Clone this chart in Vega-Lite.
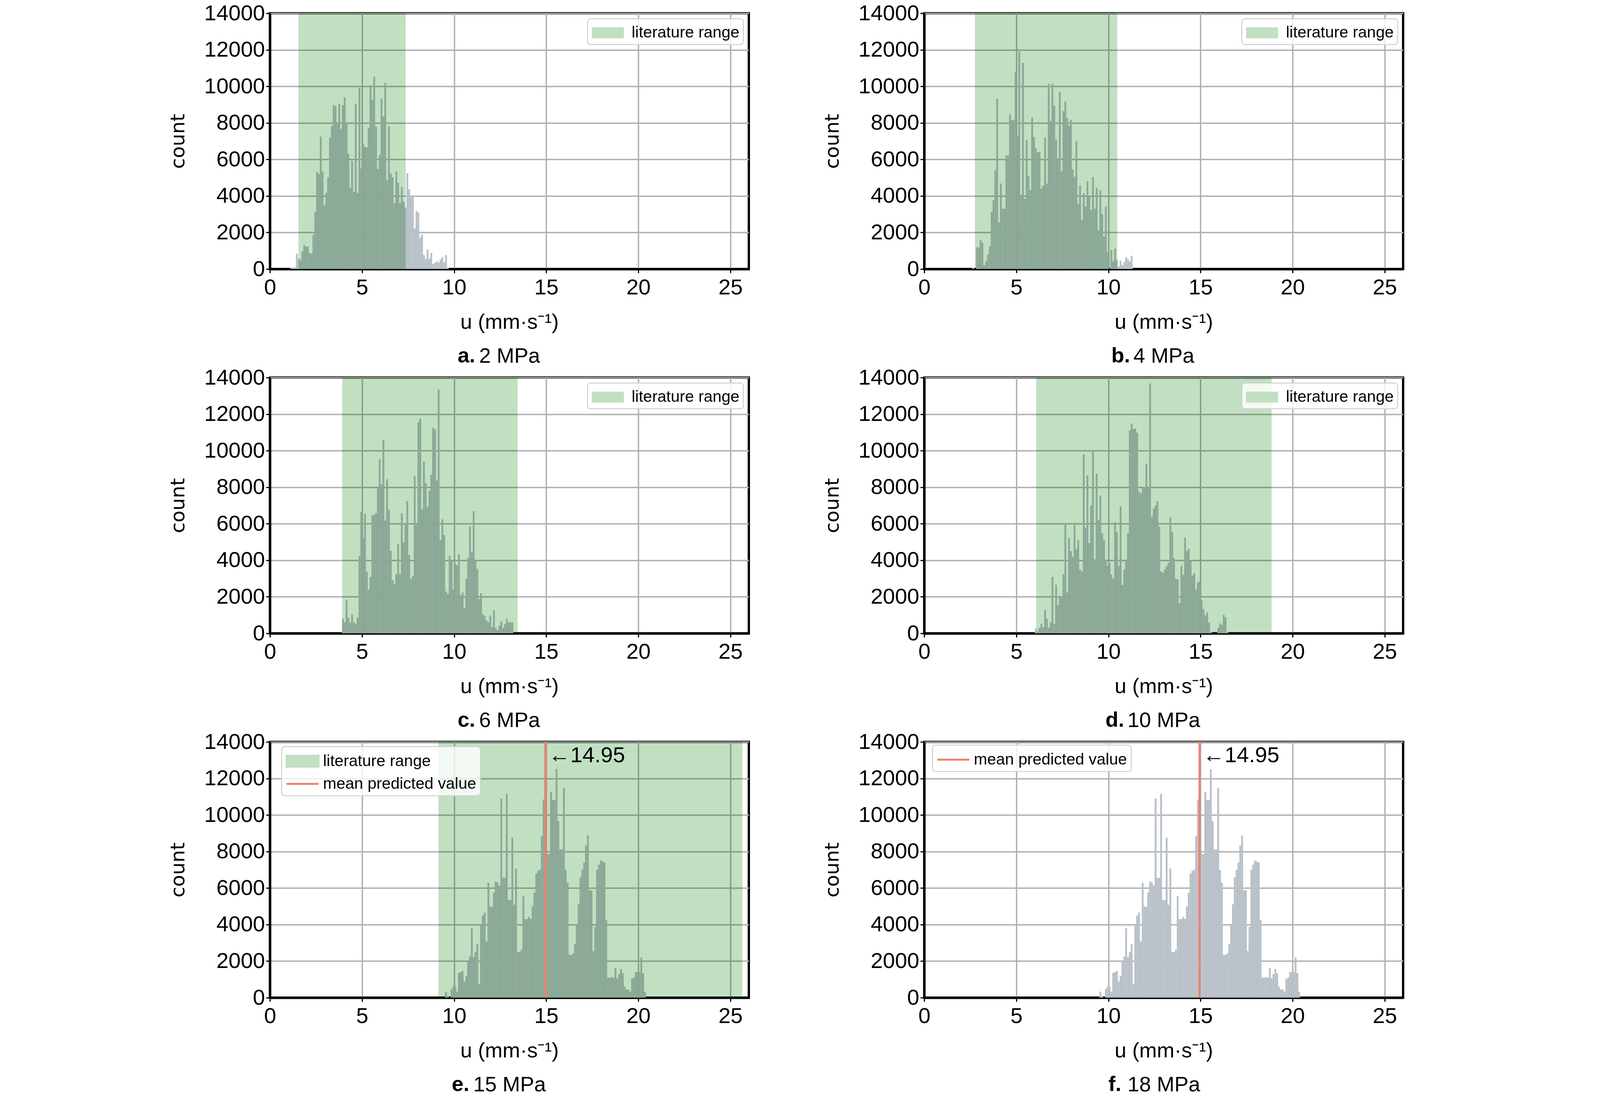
{
  "$schema": "https://vega.github.io/schema/vega-lite/v6.json",
  "background": "white",
  "padding": {"left": 428, "top": 3, "right": 10, "bottom": 10},
  "datasets": {
    "a": [{"u":1.15,"n":60},{"u":1.25,"n":80},{"u":1.35,"n":80},{"u":1.45,"n":845},{"u":1.55,"n":590},{"u":1.65,"n":480},{"u":1.75,"n":970},{"u":1.85,"n":1310},{"u":1.95,"n":1240},{"u":2.05,"n":1230},{"u":2.15,"n":870},{"u":2.25,"n":845},{"u":2.35,"n":1880},{"u":2.45,"n":3140},{"u":2.55,"n":5320},{"u":2.65,"n":5210},{"u":2.75,"n":7250},{"u":2.85,"n":5340},{"u":2.95,"n":3480},{"u":3.05,"n":4170},{"u":3.15,"n":5030},{"u":3.25,"n":7200},{"u":3.35,"n":7810},{"u":3.45,"n":8970},{"u":3.55,"n":8930},{"u":3.65,"n":7920},{"u":3.75,"n":9040},{"u":3.85,"n":7680},{"u":3.95,"n":8970},{"u":4.05,"n":9400},{"u":4.15,"n":8030},{"u":4.25,"n":6310},{"u":4.35,"n":4450},{"u":4.45,"n":5910},{"u":4.55,"n":4240},{"u":4.65,"n":9050},{"u":4.75,"n":4170},{"u":4.85,"n":9930},{"u":4.95,"n":5500},{"u":5.05,"n":6860},{"u":5.15,"n":6680},{"u":5.25,"n":6660},{"u":5.35,"n":7740},{"u":5.45,"n":10060},{"u":5.55,"n":9260},{"u":5.65,"n":10540},{"u":5.75,"n":7810},{"u":5.85,"n":5470},{"u":5.95,"n":6240},{"u":6.05,"n":9340},{"u":6.15,"n":8350},{"u":6.25,"n":10190},{"u":6.35,"n":4870},{"u":6.45,"n":7820},{"u":6.55,"n":5230},{"u":6.65,"n":5030},{"u":6.75,"n":3590},{"u":6.85,"n":5340},{"u":6.95,"n":4720},{"u":7.05,"n":3620},{"u":7.15,"n":4490},{"u":7.25,"n":3700},{"u":7.35,"n":3370},{"u":7.45,"n":5250},{"u":7.55,"n":4380},{"u":7.65,"n":3930},{"u":7.75,"n":3950},{"u":7.85,"n":2220},{"u":7.95,"n":3180},{"u":8.05,"n":3080},{"u":8.15,"n":1710},{"u":8.25,"n":1890},{"u":8.35,"n":770},{"u":8.45,"n":560},{"u":8.55,"n":1060},{"u":8.65,"n":560},{"u":8.75,"n":870},{"u":8.85,"n":270},{"u":8.95,"n":340},{"u":9.05,"n":430},{"u":9.15,"n":340},{"u":9.25,"n":520},{"u":9.35,"n":660},{"u":9.45,"n":375},{"u":9.55,"n":770},{"u":9.65,"n":60}],
    "b": [{"u":2.65,"n":80},{"u":2.85,"n":1190},{"u":2.95,"n":1190},{"u":3.05,"n":1600},{"u":3.15,"n":1430},{"u":3.25,"n":205},{"u":3.35,"n":420},{"u":3.45,"n":790},{"u":3.55,"n":1250},{"u":3.65,"n":3130},{"u":3.75,"n":3770},{"u":3.85,"n":5410},{"u":3.95,"n":9320},{"u":4.05,"n":2550},{"u":4.15,"n":4680},{"u":4.25,"n":3300},{"u":4.35,"n":3300},{"u":4.45,"n":6220},{"u":4.55,"n":6220},{"u":4.65,"n":8470},{"u":4.75,"n":8150},{"u":4.85,"n":8150},{"u":4.95,"n":10800},{"u":5.05,"n":7290},{"u":5.15,"n":11900},{"u":5.25,"n":4050},{"u":5.35,"n":11290},{"u":5.45,"n":3850},{"u":5.55,"n":7070},{"u":5.65,"n":5080},{"u":5.75,"n":4330},{"u":5.85,"n":8300},{"u":5.95,"n":7230},{"u":6.05,"n":6610},{"u":6.15,"n":6380},{"u":6.25,"n":6420},{"u":6.35,"n":4400},{"u":6.45,"n":4560},{"u":6.55,"n":7200},{"u":6.65,"n":4680},{"u":6.75,"n":10140},{"u":6.85,"n":8110},{"u":6.95,"n":10140},{"u":7.05,"n":8930},{"u":7.15,"n":7090},{"u":7.25,"n":6060},{"u":7.35,"n":9680},{"u":7.45,"n":5350},{"u":7.55,"n":8640},{"u":7.65,"n":9160},{"u":7.75,"n":8270},{"u":7.85,"n":7850},{"u":7.95,"n":8170},{"u":8.05,"n":5450},{"u":8.15,"n":5050},{"u":8.25,"n":6990},{"u":8.35,"n":3580},{"u":8.45,"n":4580},{"u":8.55,"n":2690},{"u":8.65,"n":4150},{"u":8.75,"n":3420},{"u":8.85,"n":4810},{"u":8.95,"n":4000},{"u":9.05,"n":3240},{"u":9.15,"n":5040},{"u":9.25,"n":3300},{"u":9.35,"n":4440},{"u":9.45,"n":2120},{"u":9.55,"n":4300},{"u":9.65,"n":3020},{"u":9.75,"n":1780},{"u":9.85,"n":3420},{"u":9.95,"n":950},{"u":10.05,"n":30},{"u":10.15,"n":1050},{"u":10.25,"n":420},{"u":10.35,"n":1110},{"u":10.45,"n":500},{"u":10.55,"n":140},{"u":10.65,"n":460},{"u":10.75,"n":220},{"u":10.85,"n":380},{"u":10.95,"n":640},{"u":11.05,"n":540},{"u":11.15,"n":420},{"u":11.25,"n":730}],
    "c": [{"u":3.95,"n":810},{"u":4.05,"n":610},{"u":4.15,"n":1850},{"u":4.25,"n":850},{"u":4.35,"n":590},{"u":4.45,"n":1040},{"u":4.55,"n":600},{"u":4.65,"n":520},{"u":4.75,"n":860},{"u":4.85,"n":4230},{"u":4.95,"n":6660},{"u":5.05,"n":5210},{"u":5.15,"n":6550},{"u":5.25,"n":3380},{"u":5.35,"n":2390},{"u":5.45,"n":3090},{"u":5.55,"n":6460},{"u":5.65,"n":6500},{"u":5.75,"n":6590},{"u":5.85,"n":7940},{"u":5.95,"n":9530},{"u":6.05,"n":8140},{"u":6.15,"n":10590},{"u":6.25,"n":6180},{"u":6.35,"n":8440},{"u":6.45,"n":6770},{"u":6.55,"n":4520},{"u":6.65,"n":2910},{"u":6.75,"n":2710},{"u":6.85,"n":3250},{"u":6.95,"n":4900},{"u":7.05,"n":3250},{"u":7.15,"n":6570},{"u":7.25,"n":4980},{"u":7.35,"n":6000},{"u":7.45,"n":7250},{"u":7.55,"n":4290},{"u":7.65,"n":2990},{"u":7.75,"n":3140},{"u":7.85,"n":8610},{"u":7.95,"n":5950},{"u":8.05,"n":11540},{"u":8.15,"n":11760},{"u":8.25,"n":6780},{"u":8.35,"n":9400},{"u":8.45,"n":8220},{"u":8.55,"n":6930},{"u":8.65,"n":7800},{"u":8.75,"n":8680},{"u":8.85,"n":11250},{"u":8.95,"n":11170},{"u":9.05,"n":8380},{"u":9.15,"n":13350},{"u":9.25,"n":5100},{"u":9.35,"n":6240},{"u":9.45,"n":5380},{"u":9.55,"n":2290},{"u":9.65,"n":2160},{"u":9.75,"n":4250},{"u":9.85,"n":3970},{"u":9.95,"n":2400},{"u":10.05,"n":3800},{"u":10.15,"n":3720},{"u":10.25,"n":4340},{"u":10.35,"n":2090},{"u":10.45,"n":2240},{"u":10.55,"n":1410},{"u":10.65,"n":2980},{"u":10.75,"n":4130},{"u":10.85,"n":5840},{"u":10.95,"n":4460},{"u":11.05,"n":6700},{"u":11.15,"n":4000},{"u":11.25,"n":3530},{"u":11.35,"n":1880},{"u":11.45,"n":2200},{"u":11.55,"n":1050},{"u":11.65,"n":960},{"u":11.75,"n":700},{"u":11.85,"n":610},{"u":11.95,"n":960},{"u":12.05,"n":330},{"u":12.15,"n":1260},{"u":12.25,"n":300},{"u":12.35,"n":170},{"u":12.45,"n":430},{"u":12.55,"n":650},{"u":12.65,"n":300},{"u":12.75,"n":500},{"u":12.85,"n":790},{"u":12.95,"n":610},{"u":13.05,"n":610},{"u":13.15,"n":600}],
    "d": [{"u":6.05,"n":260},{"u":6.15,"n":100},{"u":6.25,"n":300},{"u":6.35,"n":520},{"u":6.45,"n":330},{"u":6.55,"n":1290},{"u":6.65,"n":790},{"u":6.75,"n":320},{"u":6.85,"n":600},{"u":6.95,"n":3090},{"u":7.05,"n":520},{"u":7.15,"n":2660},{"u":7.25,"n":1550},{"u":7.35,"n":2000},{"u":7.45,"n":1940},{"u":7.55,"n":3240},{"u":7.65,"n":5940},{"u":7.75,"n":2240},{"u":7.85,"n":5230},{"u":7.95,"n":4500},{"u":8.05,"n":4200},{"u":8.15,"n":5940},{"u":8.25,"n":4590},{"u":8.35,"n":5090},{"u":8.45,"n":3500},{"u":8.55,"n":3390},{"u":8.65,"n":9810},{"u":8.75,"n":5800},{"u":8.85,"n":8650},{"u":8.95,"n":4940},{"u":9.05,"n":7000},{"u":9.15,"n":9950},{"u":9.25,"n":4050},{"u":9.35,"n":8740},{"u":9.45,"n":6200},{"u":9.55,"n":7540},{"u":9.65,"n":5500},{"u":9.75,"n":5120},{"u":9.85,"n":4050},{"u":9.95,"n":3700},{"u":10.05,"n":3840},{"u":10.15,"n":3220},{"u":10.25,"n":3000},{"u":10.35,"n":6090},{"u":10.45,"n":5530},{"u":10.55,"n":3690},{"u":10.65,"n":6940},{"u":10.75,"n":2650},{"u":10.85,"n":3500},{"u":10.95,"n":3960},{"u":11.05,"n":5470},{"u":11.15,"n":11120},{"u":11.25,"n":11480},{"u":11.35,"n":11200},{"u":11.45,"n":11210},{"u":11.55,"n":10990},{"u":11.65,"n":7750},{"u":11.75,"n":7660},{"u":11.85,"n":7940},{"u":11.95,"n":8000},{"u":12.05,"n":9290},{"u":12.15,"n":7940},{"u":12.25,"n":13680},{"u":12.35,"n":6380},{"u":12.45,"n":6830},{"u":12.55,"n":7000},{"u":12.65,"n":7250},{"u":12.75,"n":5850},{"u":12.85,"n":3380},{"u":12.95,"n":3330},{"u":13.05,"n":3500},{"u":13.15,"n":3690},{"u":13.25,"n":3860},{"u":13.35,"n":6350},{"u":13.45,"n":5560},{"u":13.55,"n":4120},{"u":13.65,"n":3000},{"u":13.75,"n":2950},{"u":13.85,"n":1650},{"u":13.95,"n":3690},{"u":14.05,"n":3210},{"u":14.15,"n":5250},{"u":14.25,"n":4500},{"u":14.35,"n":4630},{"u":14.45,"n":3960},{"u":14.55,"n":3170},{"u":14.65,"n":3290},{"u":14.75,"n":2390},{"u":14.85,"n":2800},{"u":14.95,"n":2860},{"u":15.05,"n":1810},{"u":15.15,"n":1310},{"u":15.25,"n":980},{"u":15.35,"n":1140},{"u":15.45,"n":600},{"u":15.55,"n":80},{"u":15.95,"n":300},{"u":16.05,"n":540},{"u":16.15,"n":460},{"u":16.25,"n":1010},{"u":16.35,"n":880},{"u":16.45,"n":80}],
    "ef": [{"u":9.55,"n":330},{"u":9.65,"n":100},{"u":9.85,"n":470},{"u":9.95,"n":610},{"u":10.05,"n":610},{"u":10.15,"n":330},{"u":10.25,"n":1360},{"u":10.35,"n":1400},{"u":10.45,"n":1470},{"u":10.55,"n":880},{"u":10.65,"n":1200},{"u":10.75,"n":2000},{"u":10.85,"n":2260},{"u":10.95,"n":3800},{"u":11.05,"n":2230},{"u":11.15,"n":2500},{"u":11.25,"n":2930},{"u":11.35,"n":760},{"u":11.45,"n":3990},{"u":11.55,"n":4500},{"u":11.65,"n":4660},{"u":11.75,"n":3070},{"u":11.85,"n":6290},{"u":11.95,"n":5000},{"u":12.05,"n":4960},{"u":12.15,"n":5760},{"u":12.25,"n":6360},{"u":12.35,"n":6300},{"u":12.45,"n":6140},{"u":12.55,"n":10900},{"u":12.65,"n":6560},{"u":12.75,"n":6560},{"u":12.85,"n":11150},{"u":12.95,"n":5340},{"u":13.05,"n":5340},{"u":13.15,"n":8760},{"u":13.25,"n":5090},{"u":13.35,"n":7070},{"u":13.45,"n":2500},{"u":13.55,"n":2500},{"u":13.65,"n":2620},{"u":13.75,"n":5560},{"u":13.85,"n":4300},{"u":13.95,"n":4300},{"u":14.05,"n":4420},{"u":14.15,"n":4320},{"u":14.25,"n":5000},{"u":14.35,"n":5750},{"u":14.45,"n":6790},{"u":14.55,"n":6940},{"u":14.65,"n":7000},{"u":14.75,"n":8840},{"u":14.85,"n":10850},{"u":14.95,"n":9500},{"u":15.05,"n":7860},{"u":15.15,"n":7860},{"u":15.25,"n":11270},{"u":15.35,"n":10830},{"u":15.45,"n":10830},{"u":15.55,"n":12510},{"u":15.65,"n":9670},{"u":15.75,"n":8110},{"u":15.85,"n":8110},{"u":15.95,"n":11490},{"u":16.05,"n":6990},{"u":16.15,"n":6290},{"u":16.25,"n":2350},{"u":16.35,"n":2350},{"u":16.45,"n":2420},{"u":16.55,"n":2950},{"u":16.65,"n":4000},{"u":16.75,"n":5110},{"u":16.85,"n":6590},{"u":16.95,"n":7000},{"u":17.05,"n":7390},{"u":17.15,"n":8330},{"u":17.25,"n":8880},{"u":17.35,"n":5870},{"u":17.45,"n":5870},{"u":17.55,"n":2550},{"u":17.65,"n":3870},{"u":17.75,"n":7000},{"u":17.85,"n":7280},{"u":17.95,"n":7510},{"u":18.05,"n":7460},{"u":18.15,"n":7400},{"u":18.25,"n":4250},{"u":18.35,"n":1100},{"u":18.45,"n":1100},{"u":18.55,"n":1120},{"u":18.65,"n":1100},{"u":18.75,"n":1630},{"u":18.85,"n":1060},{"u":18.95,"n":1300},{"u":19.05,"n":1570},{"u":19.15,"n":1340},{"u":19.25,"n":610},{"u":19.35,"n":450},{"u":19.45,"n":450},{"u":19.55,"n":330},{"u":19.65,"n":1040},{"u":19.75,"n":1100},{"u":19.85,"n":1390},{"u":19.95,"n":1430},{"u":20.05,"n":1400},{"u":20.15,"n":2200},{"u":20.25,"n":1345},{"u":20.35,"n":330}]
  },
  "columns": 2,
  "spacing": {"row": -6, "column": 183},
  "concat": [
    {
      "width": 1226, "height": 655,
      "title": {"text": "a.", "dx": -110},
      "layer": [
        {
          "data": {"name": "a"},
          "mark": {"type": "bar", "color": "#b8c0c8", "binSpacing": 0},
          "encoding": {
            "x": {"field": "u", "type": "quantitative", "bin": {"step": 0.1, "extent": [0, 26]}, "scale": {"domain": [0, 26], "nice": false, "zero": false}, "axis": {"title": ["u (mm·s⁻¹)", "2 MPa"], "values": [0, 5, 10, 15, 20, 25], "format": "d", "grid": true}},
            "y": {"field": "n", "type": "quantitative", "aggregate": "sum", "scale": {"domain": [0, 14000], "nice": false}, "axis": {"title": "count", "values": [0, 2000, 4000, 6000, 8000, 10000, 12000, 14000], "format": "d", "grid": true}}
          }
        },
        {
          "data": {"values": [{"lo": 1.55, "hi": 7.37, "label": "literature range"}]},
          "mark": {"type": "rect", "blend": "multiply"},
          "encoding": {
            "x": {"field": "lo", "type": "quantitative"},
            "x2": {"field": "hi"},
            "color": {"field": "label", "type": "nominal", "scale": {"domain": ["literature range"], "range": ["#c1e0c1"]}, "legend": {"title": null, "orient": "top-right", "symbolType": "M-1,-0.56H2.28V0.56H-1Z"}}
          }
        }
      ]
    },
    {
      "width": 1226, "height": 655,
      "title": {"text": "b.", "dx": -110},
      "layer": [
        {
          "data": {"name": "b"},
          "mark": {"type": "bar", "color": "#b8c0c8", "binSpacing": 0},
          "encoding": {
            "x": {"field": "u", "type": "quantitative", "bin": {"step": 0.1, "extent": [0, 26]}, "scale": {"domain": [0, 26], "nice": false, "zero": false}, "axis": {"title": ["u (mm·s⁻¹)", "4 MPa"], "values": [0, 5, 10, 15, 20, 25], "format": "d", "grid": true}},
            "y": {"field": "n", "type": "quantitative", "aggregate": "sum", "scale": {"domain": [0, 14000], "nice": false}, "axis": {"title": "count", "values": [0, 2000, 4000, 6000, 8000, 10000, 12000, 14000], "format": "d", "grid": true}}
          }
        },
        {
          "data": {"values": [{"lo": 2.75, "hi": 10.48, "label": "literature range"}]},
          "mark": {"type": "rect", "blend": "multiply"},
          "encoding": {
            "x": {"field": "lo", "type": "quantitative"},
            "x2": {"field": "hi"},
            "color": {"field": "label", "type": "nominal", "scale": {"domain": ["literature range"], "range": ["#c1e0c1"]}, "legend": {"title": null, "orient": "top-right", "symbolType": "M-1,-0.56H2.28V0.56H-1Z"}}
          }
        }
      ]
    },
    {
      "width": 1226, "height": 655,
      "title": {"text": "c.", "dx": -110},
      "layer": [
        {
          "data": {"name": "c"},
          "mark": {"type": "bar", "color": "#b8c0c8", "binSpacing": 0},
          "encoding": {
            "x": {"field": "u", "type": "quantitative", "bin": {"step": 0.1, "extent": [0, 26]}, "scale": {"domain": [0, 26], "nice": false, "zero": false}, "axis": {"title": ["u (mm·s⁻¹)", "6 MPa"], "values": [0, 5, 10, 15, 20, 25], "format": "d", "grid": true}},
            "y": {"field": "n", "type": "quantitative", "aggregate": "sum", "scale": {"domain": [0, 14000], "nice": false}, "axis": {"title": "count", "values": [0, 2000, 4000, 6000, 8000, 10000, 12000, 14000], "format": "d", "grid": true}}
          }
        },
        {
          "data": {"values": [{"lo": 3.92, "hi": 13.45, "label": "literature range"}]},
          "mark": {"type": "rect", "blend": "multiply"},
          "encoding": {
            "x": {"field": "lo", "type": "quantitative"},
            "x2": {"field": "hi"},
            "color": {"field": "label", "type": "nominal", "scale": {"domain": ["literature range"], "range": ["#c1e0c1"]}, "legend": {"title": null, "orient": "top-right", "symbolType": "M-1,-0.56H2.28V0.56H-1Z"}}
          }
        }
      ]
    },
    {
      "width": 1226, "height": 655,
      "title": {"text": "d.", "dx": -125},
      "layer": [
        {
          "data": {"name": "d"},
          "mark": {"type": "bar", "color": "#b8c0c8", "binSpacing": 0},
          "encoding": {
            "x": {"field": "u", "type": "quantitative", "bin": {"step": 0.1, "extent": [0, 26]}, "scale": {"domain": [0, 26], "nice": false, "zero": false}, "axis": {"title": ["u (mm·s⁻¹)", "10 MPa"], "values": [0, 5, 10, 15, 20, 25], "format": "d", "grid": true}},
            "y": {"field": "n", "type": "quantitative", "aggregate": "sum", "scale": {"domain": [0, 14000], "nice": false}, "axis": {"title": "count", "values": [0, 2000, 4000, 6000, 8000, 10000, 12000, 14000], "format": "d", "grid": true}}
          }
        },
        {
          "data": {"values": [{"lo": 6.08, "hi": 18.86, "label": "literature range"}]},
          "mark": {"type": "rect", "blend": "multiply"},
          "encoding": {
            "x": {"field": "lo", "type": "quantitative"},
            "x2": {"field": "hi"},
            "color": {"field": "label", "type": "nominal", "scale": {"domain": ["literature range"], "range": ["#c1e0c1"]}, "legend": {"title": null, "orient": "top-right", "symbolType": "M-1,-0.56H2.28V0.56H-1Z"}}
          }
        }
      ]
    },
    {
      "width": 1226, "height": 655,
      "title": {"text": "e.", "dx": -125},
      "layer": [
        {
          "data": {"name": "ef"},
          "mark": {"type": "bar", "color": "#b8c0c8", "binSpacing": 0},
          "encoding": {
            "x": {"field": "u", "type": "quantitative", "bin": {"step": 0.1, "extent": [0, 26]}, "scale": {"domain": [0, 26], "nice": false, "zero": false}, "axis": {"title": ["u (mm·s⁻¹)", "15 MPa"], "values": [0, 5, 10, 15, 20, 25], "format": "d", "grid": true}},
            "y": {"field": "n", "type": "quantitative", "aggregate": "sum", "scale": {"domain": [0, 14000], "nice": false}, "axis": {"title": "count", "values": [0, 2000, 4000, 6000, 8000, 10000, 12000, 14000], "format": "d", "grid": true}}
          }
        },
        {
          "data": {"values": [{"lo": 9.15, "hi": 25.65, "label": "literature range"}]},
          "mark": {"type": "rect", "blend": "multiply"},
          "encoding": {
            "x": {"field": "lo", "type": "quantitative"},
            "x2": {"field": "hi"},
            "color": {"field": "label", "type": "nominal", "scale": {"domain": ["literature range", "mean predicted value"], "range": ["#c1e0c1", "#f08072"]},
              "legend": {"title": null, "orient": "none", "legendX": 30, "legendY": 12, "labelOffset": 41,
                "encode": {"symbols": {"update": {
                  "shape": {"signal": "datum.value == 'literature range' ? 'M-1,-0.56H2.28V0.56H-1Z' : 'M-1,0H2.28'"},
                  "fill": {"signal": "datum.value == 'literature range' ? '#c1e0c1' : 'transparent'"},
                  "stroke": {"signal": "datum.value == 'literature range' ? 'transparent' : '#f08072'"},
                  "strokeWidth": {"value": 5}
                }}}}}
          }
        },
        {
          "data": {"values": [{"m": 14.95, "label": "mean predicted value", "txt": "←14.95"}]},
          "layer": [
            {"mark": {"type": "rule", "strokeWidth": 5.5}, "encoding": {"x": {"field": "m", "type": "quantitative"}, "color": {"field": "label", "type": "nominal"}}},
            {"mark": {"type": "text", "align": "left", "baseline": "top", "dx": 8, "dy": 8, "fontSize": 56, "font": "Liberation Sans", "color": "black"}, "encoding": {"x": {"field": "m", "type": "quantitative"}, "y": {"datum": 14000}, "text": {"field": "txt"}}}
          ]
        }
      ]
    },
    {
      "width": 1226, "height": 655,
      "title": {"text": "f.", "dx": -125},
      "layer": [
        {
          "data": {"name": "ef"},
          "mark": {"type": "bar", "color": "#b8c0c8", "binSpacing": 0},
          "encoding": {
            "x": {"field": "u", "type": "quantitative", "bin": {"step": 0.1, "extent": [0, 26]}, "scale": {"domain": [0, 26], "nice": false, "zero": false}, "axis": {"title": ["u (mm·s⁻¹)", "18 MPa"], "values": [0, 5, 10, 15, 20, 25], "format": "d", "grid": true}},
            "y": {"field": "n", "type": "quantitative", "aggregate": "sum", "scale": {"domain": [0, 14000], "nice": false}, "axis": {"title": "count", "values": [0, 2000, 4000, 6000, 8000, 10000, 12000, 14000], "format": "d", "grid": true}}
          }
        },
        {
          "data": {"values": [{"m": 14.95, "label": "mean predicted value", "txt": "←14.95"}]},
          "layer": [
            {"mark": {"type": "rule", "strokeWidth": 5.5}, "encoding": {"x": {"field": "m", "type": "quantitative"}, "color": {"field": "label", "type": "nominal", "scale": {"domain": ["mean predicted value"], "range": ["#f08072"]}, "legend": {"title": null, "orient": "none", "legendX": 21, "legendY": 8, "labelOffset": 41, "symbolType": "M-1,0H2.28", "symbolStrokeColor": "#f08072", "symbolStrokeWidth": 5}}}},
            {"mark": {"type": "text", "align": "left", "baseline": "top", "dx": 8, "dy": 8, "fontSize": 56, "font": "Liberation Sans", "color": "black"}, "encoding": {"x": {"field": "m", "type": "quantitative"}, "y": {"datum": 14000}, "text": {"field": "txt"}}}
          ]
        }
      ]
    }
  ],
  "resolve": {"scale": {"color": "independent"}, "legend": {"color": "independent"}},
  "config": {
    "view": {"stroke": "black", "strokeWidth": 6},
    "axis": {
      "labelFont": "Liberation Sans", "labelFontSize": 56, "labelColor": "black", "titleColor": "black", "labelLimit": 1000,
      "gridColor": "#b0b0b0", "gridWidth": 3.5, "gridOpacity": 1,
      "domainColor": "black", "domainWidth": 6,
      "tickColor": "black", "tickWidth": 3, "tickSize": 10,
      "zindex": 1, "labelFlush": false, "labelOverlap": false
    },
    "axisX": {"labelPadding": 10, "titlePadding": 34, "titleFont": "Liberation Sans", "titleFontSize": 54, "titleLineHeight": 87, "titleFontWeight": "normal", "titleLimit": 2000},
    "axisY": {"labelPadding": 3, "titlePadding": 41, "titleFont": "DejaVu Sans", "titleFontSize": 50, "titleFontWeight": "normal"},
    "title": {
      "orient": "bottom", "anchor": "middle", "align": "right", "offset": -54,
      "font": "Liberation Sans", "fontSize": 54, "fontWeight": "bold", "color": "black"
    },
    "legend": {
      "labelFont": "Liberation Sans", "labelFontSize": 41, "labelColor": "black", "labelLimit": 1000,
      "fillColor": "rgba(255,255,255,0.8)", "strokeColor": "#d0d0d0", "strokeWidth": 2.5, "cornerRadius": 8,
      "padding": 10, "symbolSize": 2500, "labelOffset": 51, "rowPadding": 6, "offset": 14, "symbolOpacity": 1
    }
  }
}
